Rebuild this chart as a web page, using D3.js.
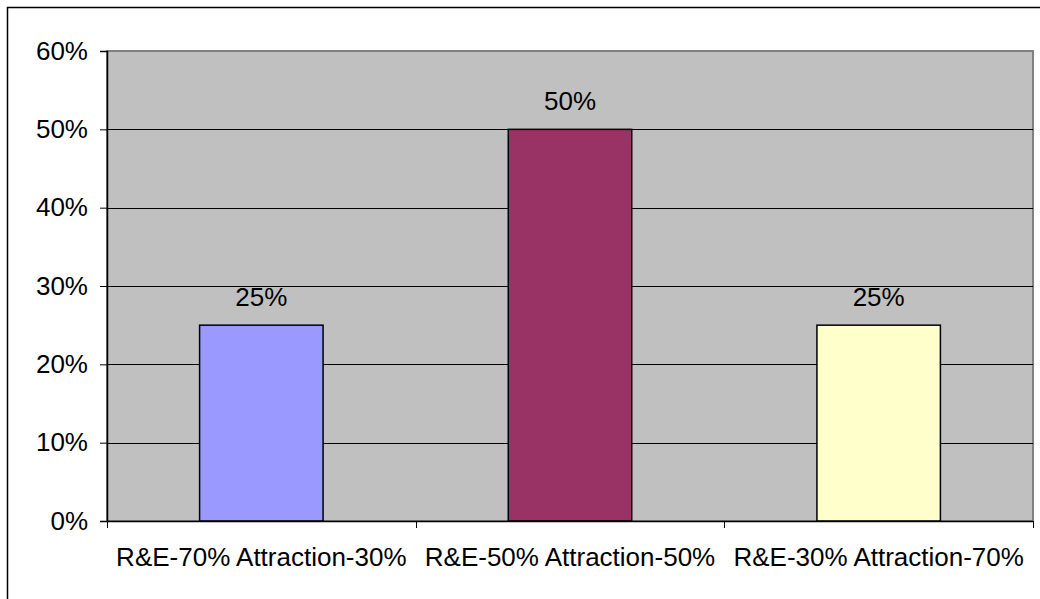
<!DOCTYPE html>
<html>
<head>
<meta charset="utf-8">
<script src="https://cdn.jsdelivr.net/npm/d3@7"></script>
<style>
  body { margin: 0; background: #fff; }
  svg { display: block; font-family: "Liberation Sans", Arial, sans-serif; }
</style>
</head>
<body>
<svg id="chart"></svg>
<script>
const categories = ["R&E-70% Attraction-30%", "R&E-50% Attraction-50%", "R&E-30% Attraction-70%"];
const values = [0.25, 0.5, 0.25];
const barColors = ["#9999FF", "#993366", "#FFFFCC"];
const yTicks = [0, 0.1, 0.2, 0.3, 0.4, 0.5, 0.6];

const width = 1040;
const height = 599;
const fontSize = 26;
const svg = d3.select("#chart").attr("width", width).attr("height", height);

// outer chart frame (runs off the right/bottom edge)
svg.append("rect")
  .attr("x", 7.5).attr("y", 7.5)
  .attr("width", width + 10).attr("height", height + 10)
  .attr("fill", "#fff").attr("stroke", "#000").attr("stroke-width", 1.5);

const plot = { left: 107, top: 51, right: 1033, bottom: 521 };

const x = d3.scaleBand().domain(categories).range([plot.left, plot.right]).padding(0);
const y = d3.scaleLinear().domain([0, 0.6]).range([plot.bottom, plot.top]);
const fmt = d3.format(".0%");

const g = svg.append("g");

g.append("rect")
  .attr("x", plot.left).attr("y", plot.top)
  .attr("width", plot.right - plot.left).attr("height", plot.bottom - plot.top)
  .attr("fill", "#C0C0C0").attr("stroke", "#808080").attr("stroke-width", 2);

// gridlines
g.selectAll("line.grid")
  .data(yTicks.filter((d) => d > 0 && d < 0.6))
  .enter()
  .append("line")
  .attr("x1", plot.left).attr("x2", plot.right)
  .attr("y1", (d) => Math.round(y(d)) + 0.5).attr("y2", (d) => Math.round(y(d)) + 0.5)
  .attr("stroke", "#000").attr("stroke-width", 1);

// bars
const barW = x.bandwidth() * 0.4;
g.selectAll("rect.bar")
  .data(values)
  .enter()
  .append("rect")
  .attr("x", (d, i) => x(categories[i]) + (x.bandwidth() - barW) / 2)
  .attr("y", (d) => y(d))
  .attr("width", barW)
  .attr("height", (d) => y(0) - y(d))
  .attr("fill", (d, i) => barColors[i])
  .attr("stroke", "#000").attr("stroke-width", 1.5);

// value labels
g.selectAll("text.val")
  .data(values)
  .enter()
  .append("text")
  .attr("x", (d, i) => x(categories[i]) + x.bandwidth() / 2)
  .attr("y", (d) => y(d) - 19.5)
  .attr("text-anchor", "middle")
  .attr("font-size", fontSize)
  .attr("fill", "#000")
  .text((d) => fmt(d));

// y axis
const yAxis = g.append("g")
  .attr("transform", `translate(${plot.left},0)`)
  .call(d3.axisLeft(y).tickValues(yTicks).tickFormat(fmt).tickSize(7).tickPadding(12));
yAxis.select(".domain").attr("stroke", "#000").attr("stroke-width", 1.5);
yAxis.selectAll(".tick line").attr("stroke", "#000");
yAxis.selectAll("text").attr("font-size", fontSize).attr("font-family", "Liberation Sans, Arial, sans-serif").attr("fill", "#000");

// x axis
const xAxis = g.append("g")
  .attr("transform", `translate(0,${plot.bottom})`)
  .call(d3.axisBottom(x).tickSize(0).tickPadding(27));
xAxis.select(".domain").attr("stroke", "#000").attr("stroke-width", 1.5);
xAxis.selectAll("text").attr("font-size", fontSize).attr("font-family", "Liberation Sans, Arial, sans-serif").attr("fill", "#000");

// category boundary ticks
g.selectAll("line.xtick")
  .data([plot.left, ...categories.map((c) => x(c) + x.bandwidth())])
  .enter()
  .append("line")
  .attr("x1", (d) => Math.round(d) + 0.5).attr("x2", (d) => Math.round(d) + 0.5)
  .attr("y1", plot.bottom).attr("y2", plot.bottom + 7)
  .attr("stroke", "#000");
</script>
</body>
</html>
